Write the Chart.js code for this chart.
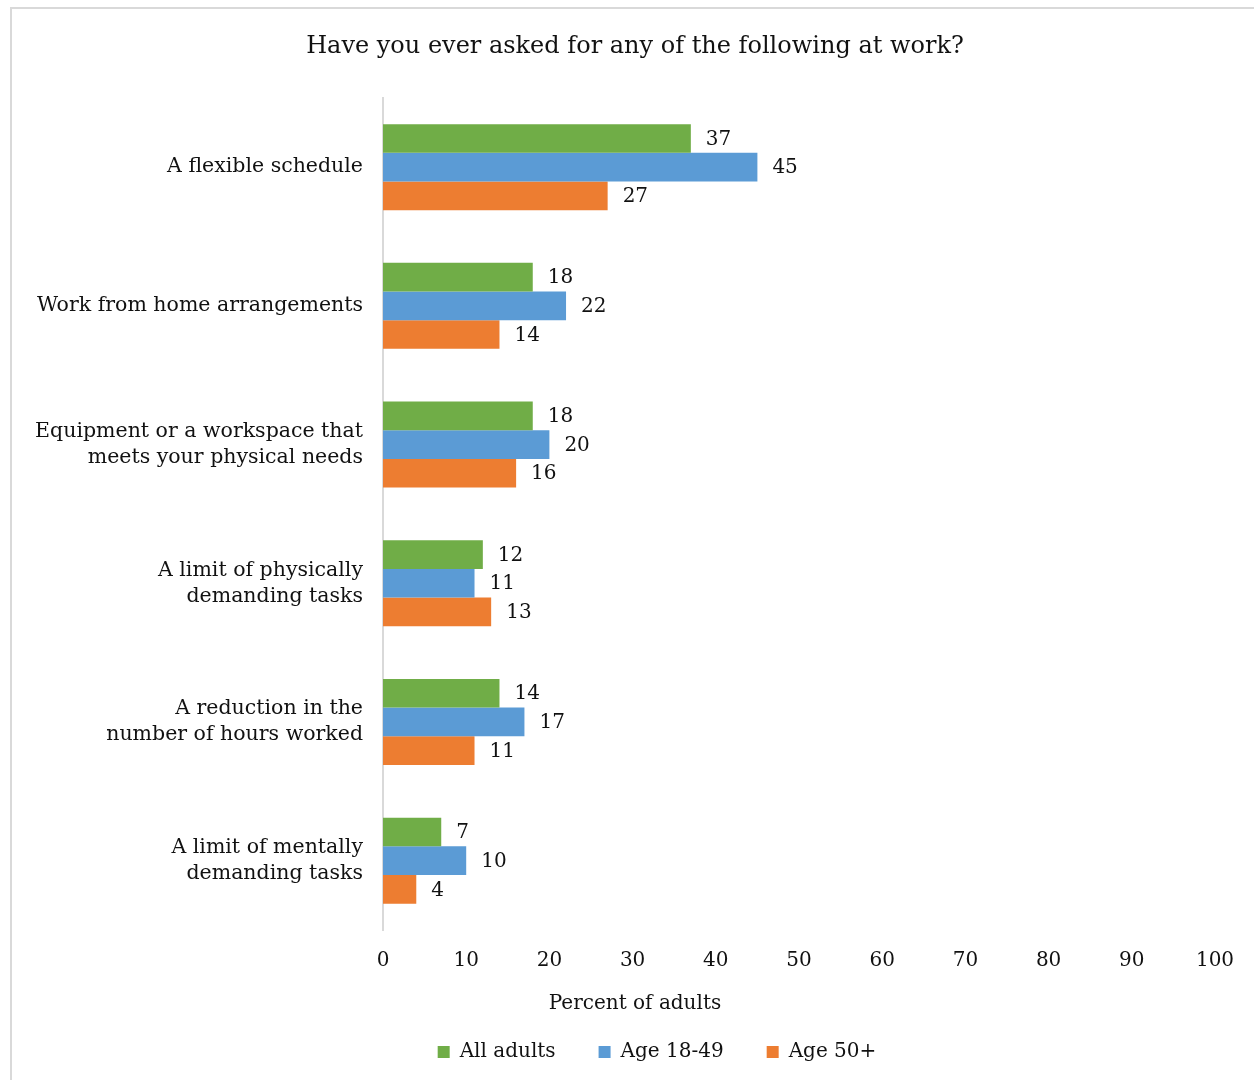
<!DOCTYPE html>
<html>
<head>
<meta charset="utf-8">
<title>Asked for at work</title>
<script src="https://cdn.jsdelivr.net/npm/chart.js@4.4.1/dist/chart.umd.min.js"></script>
<style>
  body { margin: 0; background: #fff; }
  #frame { position: absolute; left: 10px; top: 7px; width: 1300px; height: 1100px; border: 2px solid #d9d9d9; }
  #wrap { position: absolute; left: 0; top: 0; width: 1254px; height: 1080px; }
</style>
</head>
<body>
<div id="frame"></div>
<div id="wrap"><canvas id="myChart"></canvas></div>
<script>
var categories = [
  'A flexible schedule',
  'Work from home arrangements',
  ['Equipment or a workspace that', 'meets your physical needs'],
  ['A limit of physically', 'demanding tasks'],
  ['A reduction in the', 'number of hours worked'],
  ['A limit of mentally', 'demanding tasks']
];
var allAdults = [37, 18, 18, 12, 14, 7];
var age18to49 = [45, 22, 20, 11, 17, 10];
var age50plus = [27, 14, 16, 13, 11, 4];
var xTicks = [0, 10, 20, 30, 40, 50, 60, 70, 80, 90, 100];

var fontFamily = '"DejaVu Serif", serif';
var textColor = '#111';

// writes the number just past the end of every bar
var valueLabels = {
  id: 'valueLabels',
  afterDatasetsDraw(chart) {
    var ctx = chart.ctx;
    ctx.save();
    ctx.font = '20px ' + fontFamily;
    ctx.fillStyle = textColor;
    ctx.textAlign = 'left';
    ctx.textBaseline = 'middle';
    chart.data.datasets.forEach(function(ds, i) {
      chart.getDatasetMeta(i).data.forEach(function(bar, j) {
        ctx.fillText(ds.data[j], bar.x + 15, bar.y + 1);
      });
    });
    ctx.restore();
  }
};

// legend sits a little right of the page centre in the original
var nudgeLegend = {
  id: 'nudgeLegend',
  afterLayout(chart) {
    chart.legend.left += 22;
    chart.legend.right += 22;
  }
};

var ctx = document.getElementById('myChart');

var myChart = new Chart(ctx, {
  type: 'bar',
  data: {
    labels: categories,
    datasets: [
      { label: 'All adults', data: allAdults, backgroundColor: '#70ad47' },
      { label: 'Age 18-49', data: age18to49, backgroundColor: '#5b9bd5' },
      { label: 'Age 50+', data: age50plus, backgroundColor: '#ed7d31' }
    ]
  },
  options: {
    indexAxis: 'y',
    responsive: true,
    maintainAspectRatio: false,
    animation: false,
    categoryPercentage: 0.62,
    barPercentage: 1,
    layout: { padding: { left: 55, right: 39, top: 0, bottom: 8 } },
    scales: {
      x: {
        min: 0,
        max: 100,
        afterBuildTicks: function(scale) {
          scale.ticks = xTicks.map(function(v) { return { value: v }; });
        },
        grid: { display: false, drawTicks: false },
        border: { display: false },
        ticks: { color: textColor, font: { family: fontFamily, size: 20 }, padding: 19, maxRotation: 0 },
        title: { display: false }
      },
      y: {
        grid: { display: false, drawTicks: false },
        border: { display: true, color: '#d9d9d9', width: 2 },
        ticks: { color: textColor, font: { family: fontFamily, size: 20.5, lineHeight: 1.27 }, padding: 20 },
        afterFit: function(scale) {
          scale.width = 383 - 55;
          // long labels reach past the axis box, so don't clip them
          scale._computeLabelArea = function() { return undefined; };
        }
      }
    },
    plugins: {
      title: {
        display: true,
        text: 'Have you ever asked for any of the following at work?',
        color: textColor,
        font: { family: fontFamily, size: 24, weight: 'normal' },
        padding: { top: 32, bottom: 37 }
      },
      subtitle: {
        display: true,
        position: 'bottom',
        weight: 500,
        text: 'Percent of adults',
        color: textColor,
        font: { family: fontFamily, size: 20, weight: 'normal' },
        padding: { top: 0, bottom: -17 }
      },
      legend: {
        position: 'bottom',
        labels: {
          color: textColor,
          font: { family: fontFamily, size: 20 },
          boxWidth: 12,
          boxHeight: 12,
          padding: 43
        }
      },
      tooltip: { enabled: false }
    }
  },
  plugins: [valueLabels, nudgeLegend]
});
</script>
</body>
</html>
